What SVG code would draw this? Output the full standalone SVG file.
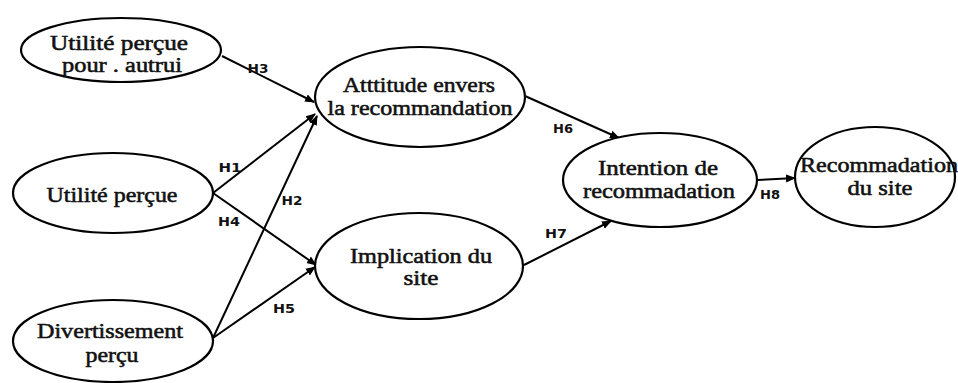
<svg xmlns="http://www.w3.org/2000/svg" width="958" height="383" viewBox="0 0 958 383">
<style>
.n ellipse{fill:#fff;stroke:#000;stroke-width:2.2}
.n text{font-family:"Liberation Serif","Times New Roman",serif;font-size:21px;fill:#111;text-anchor:middle;stroke:#111;stroke-width:0.55}
.c line{stroke:#000;stroke-width:2;marker-end:url(#ah)}
.c text{font-family:"DejaVu Sans","Liberation Sans",sans-serif;font-weight:bold;font-size:12px;fill:#111;text-anchor:middle}
</style>
<defs>
<marker id="ah" viewBox="0 0 10 10" refX="9" refY="5" markerWidth="5" markerHeight="5" orient="auto" markerUnits="strokeWidth">
<path d="M0,1 L10,5 L0,9 z" fill="#000"/>
</marker>
</defs>
<rect width="958" height="383" fill="#fff"/>
<g class="c" id="connectors">
<line x1="222" y1="56" x2="314" y2="102"/>
<line x1="213" y1="193" x2="315" y2="114"/>
<line x1="213" y1="338" x2="317" y2="116"/>
<line x1="213" y1="193" x2="316" y2="265"/>
<line x1="213" y1="338" x2="315" y2="267"/>
<line x1="525" y1="96" x2="619" y2="138"/>
<line x1="524" y1="265" x2="611" y2="221"/>
<line x1="757" y1="180" x2="795" y2="178"/>
<text x="258" y="73" textLength="21" lengthAdjust="spacingAndGlyphs">H3</text>
<text x="230" y="172" textLength="23" lengthAdjust="spacingAndGlyphs">H1</text>
<text x="292" y="205" textLength="21" lengthAdjust="spacingAndGlyphs">H2</text>
<text x="229" y="226" textLength="22" lengthAdjust="spacingAndGlyphs">H4</text>
<text x="284" y="313" textLength="22" lengthAdjust="spacingAndGlyphs">H5</text>
<text x="563" y="133" textLength="20" lengthAdjust="spacingAndGlyphs">H6</text>
<text x="556" y="238" textLength="22" lengthAdjust="spacingAndGlyphs">H7</text>
<text x="770" y="199" textLength="20" lengthAdjust="spacingAndGlyphs">H8</text>
</g>
<g class="n" id="utilite-autrui">
<ellipse cx="121" cy="50" rx="100" ry="32"/>
<text x="119" y="50" textLength="138" lengthAdjust="spacingAndGlyphs">Utilité perçue</text>
<text x="122" y="72" textLength="120" lengthAdjust="spacingAndGlyphs">pour . autrui</text>
</g>
<g class="n" id="utilite-percue">
<ellipse cx="113" cy="193" rx="100" ry="40"/>
<text x="112" y="202" textLength="131" lengthAdjust="spacingAndGlyphs">Utilité perçue</text>
</g>
<g class="n" id="divertissement">
<ellipse cx="113" cy="341" rx="100" ry="41"/>
<text x="110" y="338" textLength="146" lengthAdjust="spacingAndGlyphs">Divertissement</text>
<text x="112" y="362" textLength="53" lengthAdjust="spacingAndGlyphs">perçu</text>
</g>
<g class="n" id="attitude">
<ellipse cx="420" cy="97" rx="105" ry="50"/>
<text x="419" y="92" textLength="152" lengthAdjust="spacingAndGlyphs">Atttitude envers</text>
<text x="420" y="115" textLength="185" lengthAdjust="spacingAndGlyphs">la recommandation</text>
</g>
<g class="n" id="implication">
<ellipse cx="419" cy="266" rx="104" ry="53"/>
<text x="421" y="263" textLength="142" lengthAdjust="spacingAndGlyphs">Implication du</text>
<text x="421" y="285" textLength="35" lengthAdjust="spacingAndGlyphs">site</text>
</g>
<g class="n" id="intention">
<ellipse cx="660" cy="180" rx="97" ry="47"/>
<text x="658" y="175" textLength="120" lengthAdjust="spacingAndGlyphs">Intention  de</text>
<text x="659" y="198" textLength="152" lengthAdjust="spacingAndGlyphs">recommadation</text>
</g>
<g class="n" id="recommandation-site">
<ellipse cx="875" cy="177" rx="80" ry="50"/>
<text x="879" y="172" textLength="158" lengthAdjust="spacingAndGlyphs">Recommadation</text>
<text x="880" y="195" textLength="65" lengthAdjust="spacingAndGlyphs">du site</text>
</g>
</svg>
